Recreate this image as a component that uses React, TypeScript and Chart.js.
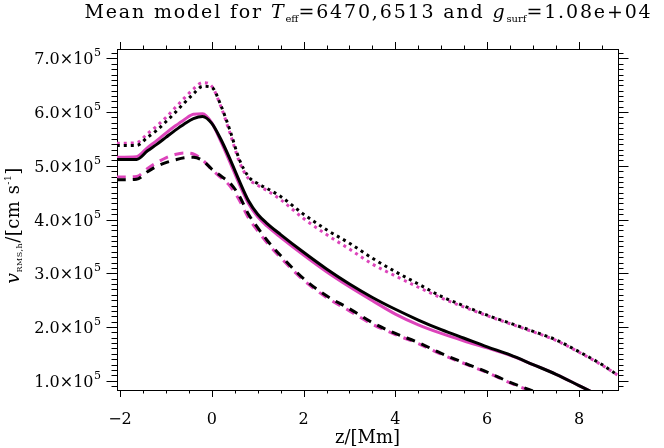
import React, { useEffect, useRef } from 'react';
import { Chart, registerables } from 'chart.js';
Chart.register(...registerables);

// depth grid z [Mm]
const zGrid = [-2.07, -1.64, -1.4, -1.2, -1.0, -0.8, -0.6, -0.4, -0.2, 0.0, 0.2, 0.4, 0.6, 0.8, 1.0, 1.2, 1.5, 2.0, 2.5, 3.0, 3.5, 4.0, 4.5, 5.0, 5.5, 6.0, 6.5, 7.0, 7.5, 8.0, 8.5, 8.85];

// v_rms,h [cm/s]  (black = model 1, magenta = model 2)
const blackSolid = [512000, 512000, 528000, 540000, 553000, 566000, 578000, 588000, 592000, 579000, 549000, 512000, 472000, 435000, 410000, 393000, 372000, 339000, 308000, 280000, 255000, 233000, 213000, 195000, 179000, 163000, 148000, 130000, 112000, 91000, 70000, 58000];
const magentaSolid = [516000, 517000, 534000, 547000, 561000, 574000, 586000, 596000, 597000, 580000, 545000, 506000, 466000, 430000, 405000, 388000, 367000, 334000, 303000, 275000, 249000, 224000, 204000, 188000, 174000, 161000, 147000, 130000, 112000, 91000, 70000, 58000];
const blackDotted = [538000, 538000, 553000, 566000, 582000, 599000, 617000, 634000, 648000, 646000, 612000, 565000, 512000, 480000, 467000, 458000, 443000, 410000, 381000, 356000, 328000, 303000, 280000, 257000, 239000, 222000, 207000, 192000, 176000, 154000, 130000, 110000];
const magentaDotted = [542000, 543000, 560000, 574000, 590000, 608000, 626000, 643000, 655000, 648000, 610000, 560000, 508000, 476000, 464000, 454000, 437000, 402000, 372000, 345000, 317000, 295000, 274000, 254000, 237000, 221000, 206000, 191000, 175000, 153000, 129000, 110000];
const blackDashed = [474000, 475000, 489000, 499000, 506000, 511000, 515000, 516000, 510000, 494000, 481000, 468000, 444000, 410000, 385000, 362000, 333000, 290000, 258000, 234000, 208000, 188000, 171000, 151000, 133000, 116000, 97000, 81000, 70000, 60000, 50000, 45000];
const magentaDashed = [479000, 480000, 495000, 506000, 515000, 521000, 524000, 522000, 511000, 493000, 478000, 462000, 436000, 403000, 379000, 357000, 329000, 287000, 255000, 230000, 205000, 186000, 169000, 149000, 132000, 115000, 96000, 80000, 70000, 60000, 50000, 45000];

// axes
const xMin = -2.065;
const xMax = 8.85;
const yMin = 82700;
const yMax = 717500;
const xMajorTicks = [-2, 0, 2, 4, 6, 8];
const xTickLabels = ['\u22122', '0', '2', '4', '6', '8'];
const xMinorStep = 0.5;
const yMajorTicks = [100000, 200000, 300000, 400000, 500000, 600000, 700000];
const yTickMantissa = ['1.0', '2.0', '3.0', '4.0', '5.0', '6.0', '7.0'];
const yTickExponent = '5';
const yMinorStep = 10000;

const MAGENTA = '#dd44bb';
const SERIF = '"DejaVu Serif", "Liberation Serif", serif';

function pts(vals: number[]) {
  return zGrid.map((z, i) => ({ x: z, y: vals[i] }));
}

function drawSegments(ctx: CanvasRenderingContext2D, segs: any[], x: number, y: number, spacing: number) {
  let cx = x;
  for (const s of segs) {
    ctx.font = s.font;
    (ctx as any).letterSpacing = (s.sub ? 0 : spacing) + 'px';
    ctx.fillText(s.t, cx, y + (s.dy || 0));
    cx += ctx.measureText(s.t).width;
  }
}
function measureSegments(ctx: CanvasRenderingContext2D, segs: any[], spacing: number) {
  let w = 0;
  for (const s of segs) {
    ctx.font = s.font;
    (ctx as any).letterSpacing = (s.sub ? 0 : spacing) + 'px';
    w += ctx.measureText(s.t).width;
  }
  return w;
}

const decorPlugin = {
  id: 'decor',
  afterDraw(chart: any) {
    const ctx: CanvasRenderingContext2D = chart.ctx;
    const { left, right, top, bottom } = chart.chartArea;
    const xs = chart.scales.x;
    const ys = chart.scales.y;
    ctx.save();
    ctx.strokeStyle = '#000';
    ctx.fillStyle = '#000';
    ctx.lineWidth = 1;
    ctx.beginPath();
    // x ticks (bottom and top)
    for (let v = -2; v <= xMax + 1e-9; v += xMinorStep) {
      const p = Math.round(xs.getPixelForValue(v)) + 0.5;
      const major = xMajorTicks.some((m) => Math.abs(m - v) < 1e-6);
      const len = major ? 7 : 3.5;
      ctx.moveTo(p, bottom);
      ctx.lineTo(p, bottom + len);
      ctx.moveTo(p, top);
      ctx.lineTo(p, top - len);
    }
    // y ticks (left and right)
    for (let v = 90000; v <= yMax; v += yMinorStep) {
      const p = Math.round(ys.getPixelForValue(v)) + 0.5;
      const major = yMajorTicks.some((m) => Math.abs(m - v) < 1);
      const len = major ? 10.5 : 5.5;
      ctx.moveTo(left, p);
      ctx.lineTo(left - len, p);
      ctx.moveTo(right, p);
      ctx.lineTo(right + len, p);
    }
    ctx.stroke();

    // y tick labels with superscript exponent
    ctx.textBaseline = 'alphabetic';
    ctx.textAlign = 'left';
    yMajorTicks.forEach((v, i) => {
      const p = ys.getPixelForValue(v);
      ctx.font = '11px ' + SERIF;
      const we = ctx.measureText(yTickExponent).width;
      const main = yTickMantissa[i] + '\u00d710';
      ctx.font = '16px ' + SERIF;
      const wm = ctx.measureText(main).width;
      const xr = 101;
      ctx.fillText(main, xr - we - wm - 0.5, p + 6);
      ctx.font = '11px ' + SERIF;
      ctx.fillText(yTickExponent, xr - we, p - 2);
    });

    // title
    const tSegs = [
      { t: 'Mean model for ', font: '19px ' + SERIF },
      { t: 'T', font: 'italic 19px ' + SERIF },
      { t: 'eff', font: '10px ' + SERIF, dy: 4, sub: true },
      { t: '=6470,6513 and ', font: '19px ' + SERIF },
      { t: 'g', font: 'italic 19px ' + SERIF },
      { t: 'surf', font: '10px ' + SERIF, dy: 4, sub: true },
      { t: '=1.08e+04', font: '19px ' + SERIF },
    ];
    const nChars = tSegs.reduce((a, s: any) => a + (s.sub ? 0 : s.t.length), 0);
    const w0 = measureSegments(ctx, tSegs, 0);
    const targetW = 568;
    const sp = Math.max(0, (targetW - w0) / nChars);
    const wt = measureSegments(ctx, tSegs, sp);
    drawSegments(ctx, tSegs, (left + right) / 2 - wt / 2 + 1, 18, sp);
    (ctx as any).letterSpacing = '0px';

    // x-axis title
    ctx.font = '18px ' + SERIF;
    ctx.textAlign = 'center';
    ctx.fillText('z/[Mm]', (left + right) / 2, 443);

    // y-axis title (rotated)
    ctx.textAlign = 'left';
    const ySegs = [
      { t: 'v', font: 'italic 19px ' + SERIF },
      { t: 'RMS,h', font: '8px ' + SERIF, dy: 3 },
      { t: '/[cm s', font: '18px ' + SERIF },
      { t: '-1', font: '9px ' + SERIF, dy: -8 },
      { t: ']', font: '18px ' + SERIF },
    ];
    const wy = measureSegments(ctx, ySegs, 0.5);
    ctx.translate(0, (top + bottom) / 2 + 6);
    ctx.rotate(-Math.PI / 2);
    drawSegments(ctx, ySegs, -wy / 2, 19, 0.5);
    (ctx as any).letterSpacing = '0px';
    ctx.restore();
  },
};

export default function App() {
  const ref = useRef<HTMLCanvasElement>(null);
  useEffect(() => {
    document.body.style.margin = '0';
    const canvas = ref.current!;
    const mk = (label: string, vals: number[], color: string, dash: number[], width: number) => ({
      label,
      data: pts(vals),
      borderColor: color,
      backgroundColor: color,
      borderWidth: width,
      borderDash: dash,
      pointRadius: 0,
      fill: false,
      cubicInterpolationMode: 'monotone' as const,
      clip: 0,
    });
    const chart = new Chart(canvas, {
      type: 'line',
      data: {
        datasets: [
          mk('black solid', blackSolid, '#000000', [], 3),
          mk('black dotted', blackDotted, '#000000', [3, 4], 3),
          mk('black dashed', blackDashed, '#000000', [9, 7], 3),
          mk('magenta solid', magentaSolid, MAGENTA, [], 3),
          mk('magenta dotted', magentaDotted, MAGENTA, [3, 4], 3),
          mk('magenta dashed', magentaDashed, MAGENTA, [9, 7], 3),
        ],
      },
      options: {
        responsive: false,
        animation: false,
        devicePixelRatio: 1,
        layout: { padding: 0 },
        plugins: { legend: { display: false }, title: { display: false }, tooltip: { enabled: false } },
        events: [],
        scales: {
          x: {
            type: 'linear',
            position: 'bottom',
            min: xMin,
            max: xMax,
            afterBuildTicks: (s: any) => {
              s.ticks = xMajorTicks.map((v) => ({ value: v }));
            },
            afterFit: (s: any) => {
              s.height = 58;
            },
            ticks: {
              autoSkip: false,
              maxRotation: 0,
              padding: 20,
              color: '#000',
              font: { family: SERIF, size: 16 },
              callback: (v: any) => {
                const i = xMajorTicks.indexOf(Number(v));
                return i >= 0 ? xTickLabels[i] : '';
              },
            },
            grid: { display: true, drawOnChartArea: false, drawTicks: false },
            border: { display: true, color: '#000', width: 1 },
          },
          x2: {
            type: 'linear',
            position: 'top',
            min: xMin,
            max: xMax,
            afterFit: (s: any) => {
              s.height = 49;
            },
            ticks: { display: false },
            grid: { display: true, drawOnChartArea: false, drawTicks: false },
            border: { display: true, color: '#000', width: 1 },
          },
          y: {
            type: 'linear',
            position: 'left',
            min: yMin,
            max: yMax,
            afterBuildTicks: (s: any) => {
              s.ticks = yMajorTicks.map((v) => ({ value: v }));
            },
            afterFit: (s: any) => {
              s.width = 117;
            },
            ticks: { display: false },
            grid: { display: true, drawOnChartArea: false, drawTicks: false },
            border: { display: true, color: '#000', width: 1 },
          },
          y2: {
            type: 'linear',
            position: 'right',
            min: yMin,
            max: yMax,
            afterFit: (s: any) => {
              s.width = 46;
            },
            ticks: { display: false },
            grid: { display: true, drawOnChartArea: false, drawTicks: false },
            border: { display: true, color: '#000', width: 1 },
          },
        },
      },
      plugins: [decorPlugin],
    } as any);
    return () => chart.destroy();
  }, []);
  return <canvas ref={ref} width={664} height={448} style={{ display: 'block' }} />;
}
